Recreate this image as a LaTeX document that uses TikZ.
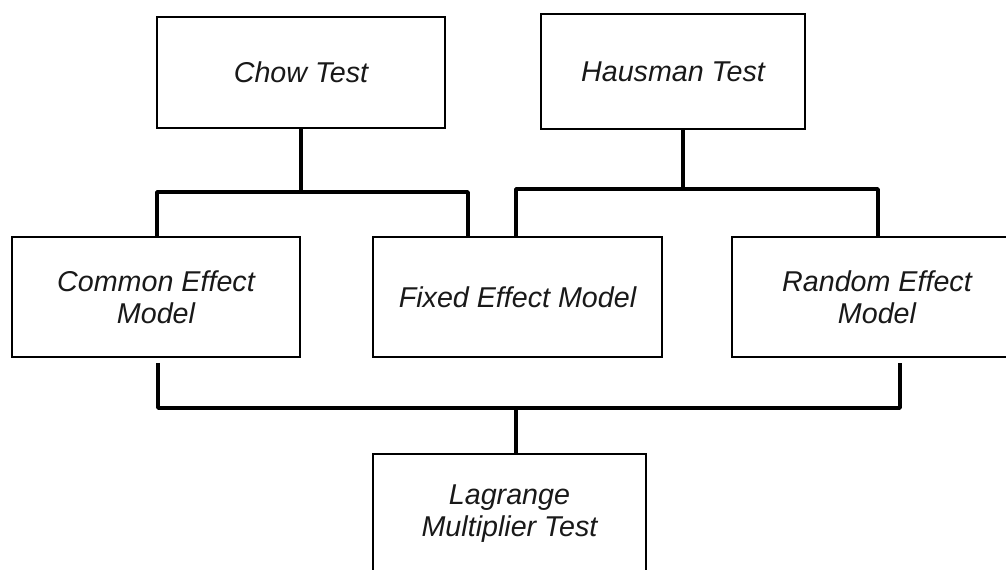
\documentclass[tikz,border=0pt]{standalone}
\usepackage{fontspec}
\setmainfont{Liberation Sans}
\begin{document}
\begin{tikzpicture}[x=0.75pt,y=-0.75pt,
  box/.style={draw=black, line width=1.9pt, fill=white, inner sep=0pt,
    align=center, font=\itshape\fontsize{21.5}{24}\selectfont, text=black!90},
  link/.style={draw=black, line width=2.8pt, line join=round}]
\useasboundingbox (0,0) rectangle (1006,569);
\clip (0,0) rectangle (1006,569);

% test boxes
\node[box, minimum width=216pt, minimum height=83.25pt] (chow) at (301,72.5) {Chow Test};
\node[box, minimum width=198pt, minimum height=86.25pt] (haus) at (673,71.5) {Hausman Test};

% model boxes
\node[box, minimum width=216pt, minimum height=90pt] (common) at (156,297) {Common Effect\\Model};
\node[box, minimum width=216.75pt, minimum height=90pt] (fixed) at (517.5,297) {Fixed Effect Model};
\node[box, minimum width=217.5pt, minimum height=90pt] (random) at (877,297) {Random Effect\\Model};

% final test
\node[box, minimum width=204.75pt, minimum height=90pt] (lm) at (509.5,514) {Lagrange\\Multiplier Test};

% Chow test branches
\coordinate (cl) at (157,192);
\coordinate (cr) at (468,192);
\draw[link] (chow.south) -- (chow.south |- cl);
\draw[link] (common.north -| cl) -- (cl) -- (cr) -- (fixed.north -| cr);

% Hausman test branches
\coordinate (hm) at (683,189);
\coordinate (hl) at (516,189);
\coordinate (hr) at (878,189);
\draw[link] (haus.south -| hm) -- (hm);
\draw[link] (fixed.north -| hl) -- (hl) -- (hr) -- (random.north -| hr);

% LM test joins common and random models
\coordinate (bl) at (158,408);
\coordinate (br) at (900,408);
\coordinate (bm) at (516,408);
\draw[link, shorten <=3.5pt, shorten >=3.5pt] (common.south -| bl) -- (bl) -- (br) -- (random.south -| br);
\draw[link] (bm) -- (lm.north -| bm);
\end{tikzpicture}
\end{document}
